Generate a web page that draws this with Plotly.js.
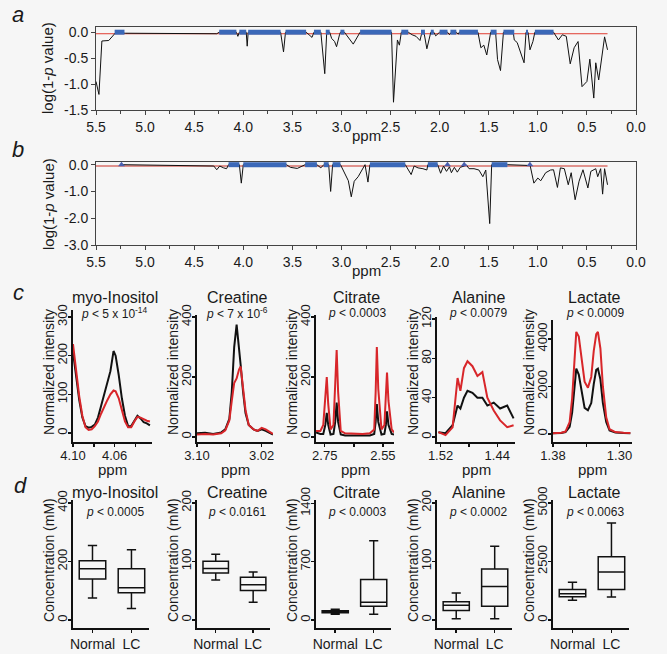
<!DOCTYPE html>
<html><head><meta charset="utf-8">
<script src="https://cdn.plot.ly/plotly-3.0.1.min.js"></script>
<style>html,body{margin:0;padding:0;background:#f6f6f6}</style>
</head><body><div id="chart" style="width:667px;height:654px"></div>
<script>
// ---------- Panel a ----------
const aPpm = [5.50,5.47,5.44,5.37,5.30,5.20,4.27,4.245,4.07,4.055,4.04,3.97,3.96,3.95,3.62,3.59,3.57,3.36,3.33,3.30,3.28,3.21,3.17,3.15,3.12,3.10,3.07,3.05,3.02,3.01,2.97,2.88,2.81,2.49,2.47,2.43,2.41,2.39,2.32,2.28,2.24,2.20,2.18,2.16,2.13,2.09,2.06,2.04,2.00,1.92,1.90,1.88,1.83,1.81,1.80,1.61,1.58,1.55,1.52,1.48,1.43,1.41,1.38,1.35,1.25,1.24,1.21,1.14,1.12,1.10,1.08,1.05,1.03,0.84,0.79,0.75,0.71,0.67,0.63,0.59,0.55,0.50,0.47,0.43,0.41,0.38,0.32,0.29];
const aVal = [-0.95,-1.2,-0.17,-0.16,-0.01,-0.02,-0.03,0,0,-0.08,0,0,-0.27,0,0,-0.38,0,0,-0.05,-0.1,0,0,-0.8,0,0,-0.12,-0.18,-0.28,-0.05,0,0,-0.23,0,0,-1.35,-0.15,-0.25,0,0,-0.05,-0.08,-0.16,0,0,-0.32,0,0,-0.07,0,0,-0.05,0,0,-0.04,0,0,-0.3,-0.25,-0.44,0,0,-0.53,-0.74,0,0,-0.15,-0.2,-0.59,0,0,-0.34,-0.18,0,0,-0.15,-0.05,-0.08,-0.61,-0.3,-0.18,-1.05,-0.95,-0.52,-1.27,-0.59,-0.92,-0.09,-0.34];
const aSigStart = [5.31,4.245,4.04,3.95,3.57,3.28,3.16,3.01,2.81,2.39,2.19,2.09,2.00,1.89,1.80,1.48,1.35,1.12,1.03];
const aSigEnd   = [5.21,4.07,3.97,3.62,3.36,3.21,3.12,2.97,2.49,2.32,2.15,2.06,1.92,1.83,1.61,1.42,1.24,1.10,0.84];
const aThreshold = -0.03;
const thrRange = [5.5, 0.29];

// ---------- Panel b ----------
const bPpm = [5.24,4.30,4.27,4.24,4.20,4.17,4.15,4.04,4.02,4.00,3.56,3.52,3.45,3.39,3.37,3.25,3.21,3.18,3.13,3.11,3.09,3.01,2.97,2.93,2.90,2.87,2.83,2.79,2.76,2.73,2.71,2.35,2.29,2.26,2.22,2.17,2.13,2.12,2.02,1.99,1.96,1.93,1.90,1.88,1.85,1.82,1.79,1.75,1.73,1.70,1.65,1.60,1.56,1.53,1.49,1.47,1.31,1.09,1.08,1.04,1.00,0.97,0.92,0.87,0.84,0.80,0.77,0.73,0.69,0.66,0.62,0.58,0.54,0.49,0.46,0.41,0.39,0.36,0.34,0.32,0.29];
const bVal = [0,-0.05,-0.19,-0.05,-0.12,-0.15,0,0,-0.69,0,0,-0.1,-0.14,-0.05,0,0,-0.12,0,0,-1.0,0,0,-0.3,-0.6,-1.2,-0.62,-0.45,-0.2,0,-0.65,0,0,-0.37,-0.05,-0.12,-0.15,-0.2,0,0,-0.32,-0.05,-0.25,-0.08,-0.3,-0.1,-0.28,-0.1,-0.05,0,-0.15,-0.15,-0.2,-0.45,-0.2,-2.2,0,0,-0.03,0,-0.69,-0.5,-0.6,-0.3,-0.2,-0.19,-0.85,-0.12,-0.15,-0.75,-0.3,-1.31,-0.62,-0.19,-0.87,-0.25,-0.15,-0.45,-0.15,-1.1,-0.15,-0.75];
const bSigStart = [4.15,4.00,3.37,3.18,3.09,2.71,2.12,1.47];
const bSigEnd   = [4.04,3.56,3.25,3.13,3.01,2.35,2.02,1.31];
const bSigDots = [5.24,1.92,1.75,1.08];
const bThreshold = -0.05;

const abTickVals = [5.5,5.0,4.5,4.0,3.5,3.0,2.5,2.0,1.5,1.0,0.5,0.0];
const abTickText = ['5.5','5.0','4.5','4.0','3.5','3.0','2.5','2.0','1.5','1.0','0.5','0.0'];
const aYTickVals = [0,-0.5,-1.0,-1.5];
const aYTickText = ['0.0','-0.5','-1.0','-1.5'];
const bYTickVals = [0,-1,-2,-3];
const bYTickText = ['0.0','-1.0','-2.0','-3.0'];

// ---------- Panel c (spectra) ----------
const metabolites = ['myo-Inositol','Creatine','Citrate','Alanine','Lactate'];
const cPvals = ['<i>p</i> < 5 x 10<sup>-14</sup>','<i>p</i> < 7 x 10<sup>-6</sup>','<i>p</i> < 0.0003','<i>p</i> < 0.0079','<i>p</i> < 0.0009'];

const myoPpm   = [4.100,4.097,4.094,4.091,4.088,4.085,4.082,4.079,4.076,4.073,4.070,4.067,4.064,4.061,4.059,4.056,4.053,4.050,4.047,4.044,4.041,4.038,4.035,4.032,4.029,4.026];
const myoBlack = [210,150,85,40,18,14,16,22,40,70,100,125,160,212,200,150,90,45,18,18,30,45,38,28,25,20];
const myoRed   = [230,160,95,45,15,8,10,18,30,50,70,85,100,110,108,90,60,30,15,15,30,42,40,35,32,30];

const crePpm   = [3.100,3.090,3.080,3.075,3.070,3.065,3.060,3.057,3.054,3.051,3.048,3.046,3.043,3.040,3.036,3.030,3.025,3.020,3.015,3.010,3.006];
const creBlack = [12,14,10,12,15,25,60,150,300,375,300,240,150,80,40,25,20,25,20,12,8];
const creRed   = [8,10,8,10,12,22,55,120,180,195,225,235,170,90,40,25,20,30,25,15,10];

const citPpm   = [2.780,2.765,2.755,2.748,2.743,2.738,2.730,2.720,2.714,2.709,2.704,2.695,2.68,2.65,2.62,2.595,2.58,2.575,2.571,2.566,2.555,2.545,2.540,2.536,2.531,2.52,2.512];
const citBlack = [15,10,10,40,80,40,8,10,50,115,50,8,5,5,5,5,10,50,110,50,8,10,40,85,40,10,8];
const citRed   = [20,20,40,120,200,110,25,40,180,290,150,20,12,10,10,12,25,150,300,160,25,40,140,215,120,25,15];

const alaPpm   = [1.523,1.513,1.503,1.496,1.492,1.487,1.482,1.475,1.468,1.461,1.454,1.445,1.436,1.426,1.417];
const alaBlack = [5,4,12,32,29,40,47,45,40,40,32,35,29,32,19];
const alaRed   = [5,2,10,60,47,70,77,72,62,66,40,27,17,10,12];

const lacPpm   = [1.380,1.370,1.365,1.360,1.357,1.354,1.352,1.349,1.345,1.342,1.338,1.334,1.331,1.328,1.326,1.323,1.320,1.316,1.312,1.305,1.295,1.287];
const lacBlack = [30,40,80,300,900,2200,2750,2500,1700,1100,1000,1300,2100,2700,2750,2300,1300,500,150,60,40,30];
const lacRed   = [30,50,100,500,1500,3500,4300,4100,3000,2200,1950,2400,3500,4200,4300,3600,2000,700,200,80,50,40];

// ---------- Panel d (concentrations, box summaries) ----------
const groups = ['Normal','LC'];
const dPvals = ['<i>p</i> < 0.0005','<i>p</i> < 0.0161','<i>p</i> < 0.0003','<i>p</i> < 0.0002','<i>p</i> < 0.0063'];
const myoBox = {lower:[75,40], q1:[140,93], median:[175,110], q3:[203,175], upper:[255,240]};
const creBox = {lower:[68,30], q1:[80,50], median:[88,60], q3:[100,73], upper:[112,82]};
const citBox = {lower:[70,70], q1:[88,166], median:[100,213], q3:[112,486], upper:[130,950]};
const alaBox = {lower:[2,2], q1:[16,23], median:[25,57], q3:[31,87], upper:[46,126]};
const lacBox = {lower:[850,980], q1:[1000,1300], median:[1120,2050], q3:[1300,2700], upper:[1620,4150]};

const cTickVals = [[4.10,4.06],[3.10,3.02],[2.75,2.55],[1.52,1.44],[1.38,1.30]];
const cTickText = [['4.10','4.06'],['3.10','3.02'],['2.75','2.55'],['1.52','1.44'],['1.38','1.30']];
const cMinorTicks = [[4.08,4.04],[3.06],[2.65],[1.48],[1.34]];
const cYTicks = [[0,100,200,300],[0,200,400],[0,200,400],[0,40,80,120],[0,2000,4000]];
const dYTicks = [[0,200,400],[0,100,200],[0,700,1400],[0,100,200],[0,2500,5000]];

// ---------- layout geometry (pixels) ----------
const W = 667, H = 654;
const px = x => x / W;
const py = y => 1 - y / H;
const FONT = 'Liberation Sans, Arial, sans-serif';
const TXT = '#1a1a1a';

const colX = [[73,152],[197,273],[316,394],[437,515],[553,632]];
const cYdom = [[310,442],[315,442],[315,442],[317,442],[320,442]];
const cYrange = [[-23,318],[-17,407],[-17,407],[-5,122],[-340,4800]];
const cXrange = [[4.10,4.024],[3.10,3.006],[2.78,2.512],[1.525,1.415],[1.38,1.285]];
const dYdom = [500,628];
const dYrange = [[-27,410],[-14,205],[-95,1440],[-14,205],[-340,5130]];

function segs(starts, ends, val) {
  const x = [], y = [];
  for (let i = 0; i < starts.length; i++) { x.push(starts[i], ends[i], null); y.push(val, val, null); }
  return {x, y};
}

const traces = [];
// panel a
const aS = segs(aSigStart, aSigEnd, 0);
traces.push({x: thrRange, y: [aThreshold, aThreshold], xaxis:'x', yaxis:'y', mode:'lines', line:{color:'#e03c31', width:1}});
traces.push({x: aPpm, y: aVal, xaxis:'x', yaxis:'y', mode:'lines', line:{color:'#111', width:1}});
traces.push({x: aS.x, y: aS.y, xaxis:'x', yaxis:'y', mode:'lines', line:{color:'#3b68b8', width:5}});
// panel b
const bS = segs(bSigStart, bSigEnd, 0);
traces.push({x: thrRange, y: [bThreshold, bThreshold], xaxis:'x2', yaxis:'y2', mode:'lines', line:{color:'#d9706a', width:1.5}});
traces.push({x: bPpm, y: bVal, xaxis:'x2', yaxis:'y2', mode:'lines', line:{color:'#111', width:1}});
traces.push({x: bS.x, y: bS.y, xaxis:'x2', yaxis:'y2', mode:'lines', line:{color:'#3b68b8', width:5}});
traces.push({x: bSigDots, y: bSigDots.map(() => 0), xaxis:'x2', yaxis:'y2', mode:'markers', marker:{symbol:'triangle-up', color:'#4a5fb0', size:6}});

// panel c
const cData = [[myoPpm,myoBlack,myoRed],[crePpm,creBlack,creRed],[citPpm,citBlack,citRed],[alaPpm,alaBlack,alaRed],[lacPpm,lacBlack,lacRed]];
cData.forEach((d, i) => {
  const ax = 3 + i;
  traces.push({x: d[0], y: d[1], xaxis:'x'+ax, yaxis:'y'+ax, mode:'lines', line:{color:'#111', width:2}});
  traces.push({x: d[0], y: d[2], xaxis:'x'+ax, yaxis:'y'+ax, mode:'lines', line:{color:'#d8262a', width:2}});
});
// panel d
const dData = [myoBox, creBox, citBox, alaBox, lacBox];
dData.forEach((b, i) => {
  const ax = 8 + i;
  traces.push({type:'box', x: groups, q1: b.q1, median: b.median, q3: b.q3, lowerfence: b.lower, upperfence: b.upper,
    xaxis:'x'+ax, yaxis:'y'+ax, line:{color:'#111', width:1.5}, fillcolor:'rgba(0,0,0,0)', width:0.68, whiskerwidth:0.35,
    boxpoints:false, hoverinfo:'skip'});
});

const layout = {
  width: W, height: H, margin:{l:0,r:0,t:0,b:0},
  paper_bgcolor:'#f6f6f6', plot_bgcolor:'#f6f6f6', showlegend:false,
  font:{family:FONT, color:TXT},
  annotations: []
};

function ann(text, x, y, size, extra) {
  return Object.assign({text, x:px(x), y:py(y), xref:'paper', yref:'paper', xanchor:'center', yanchor:'middle',
    showarrow:false, font:{size, family:FONT, color:TXT}}, extra || {});
}

function abX(anchor) {
  return {domain:[px(96), px(636)], anchor, range:[5.5,0], tickvals:abTickVals, ticktext:abTickText,
    ticks:'outside', ticklen:4, tickcolor:'#444', showline:true, mirror:true, linecolor:'#444', linewidth:1,
    showgrid:false, zeroline:false, tickfont:{size:14, color:TXT},
    minor:{dtick:0.25, tick0:0, ticks:'outside', ticklen:3, tickcolor:'#444'}};
}
function abY(anchor, dom, range, tv, tt) {
  return {domain:dom, anchor, range, tickvals:tv, ticktext:tt, ticks:'outside', ticklen:4, tickcolor:'#444',
    showline:true, mirror:true, linecolor:'#444', linewidth:1, showgrid:false, zeroline:false, tickfont:{size:14, color:TXT}};
}
layout.xaxis = abX('y');
layout.yaxis = abY('x', [py(110), py(27)], [-1.5, 0.1], aYTickVals, aYTickText);
layout.xaxis2 = abX('y2');
layout.yaxis2 = abY('x2', [py(245), py(162)], [-3.0, 0.1], bYTickVals, bYTickText);

for (let i = 0; i < 5; i++) {
  const ax = 3 + i;
  layout['xaxis'+ax] = {domain:[px(colX[i][0]), px(colX[i][1])], anchor:'y'+ax, range:cXrange[i],
    tickvals:cTickVals[i], ticktext:cTickText[i], ticks:'outside', ticklen:3, tickwidth:1.5, tickcolor:'#111',
    minor:{tickvals:cMinorTicks[i], ticks:'outside', ticklen:3, tickwidth:1.5, tickcolor:'#111'},
    ticklabelstandoff:-3,
    showline:true, linecolor:'#111', linewidth:2, showgrid:false, zeroline:false, tickfont:{size:13, color:TXT}};
  layout['yaxis'+ax] = {domain:[py(cYdom[i][1]), py(cYdom[i][0])], anchor:'x'+ax, range:cYrange[i],
    tickvals:cYTicks[i], ticks:'outside', ticklen:3, tickwidth:1.5, tickcolor:'#111', tickangle:-90,
    ticklabelstandoff:-4,
    showline:true, linecolor:'#111', linewidth:2, showgrid:false, zeroline:false, tickfont:{size:13, color:TXT}};
  const cx = (colX[i][0] + colX[i][1]) / 2;
  layout.annotations.push(ann(metabolites[i], cx+2, 297, 16));
  layout.annotations.push(ann(cPvals[i], cx+2, 313, 12));
  layout.annotations.push(ann('ppm', cx, 469, 15));
  layout.annotations.push(ann('Normalized intensity', colX[i][0]-24, 372, 14, {textangle:-90}));

  const dx = 8 + i;
  layout['xaxis'+dx] = {domain:[px(colX[i][0]), px(colX[i][1]-3)], anchor:'y'+dx, type:'category', range:[-0.5,1.45],
    ticks:'outside', ticklen:3, tickwidth:1.5, tickcolor:'#111', showline:true, linecolor:'#111', linewidth:2,
    ticklabelstandoff:-1,
    showgrid:false, zeroline:false, tickfont:{size:14, color:TXT}};
  layout['yaxis'+dx] = {domain:[py(dYdom[1]), py(dYdom[0])], anchor:'x'+dx, range:dYrange[i],
    tickvals:dYTicks[i], ticks:'outside', ticklen:3, tickwidth:1.5, tickcolor:'#111', tickangle:-90,
    ticklabelstandoff:-4,
    showline:true, linecolor:'#111', linewidth:2, showgrid:false, zeroline:false, tickfont:{size:13, color:TXT}};
  layout.annotations.push(ann(metabolites[i], cx+2, 492, 16));
  layout.annotations.push(ann(dPvals[i], cx+2, 512, 12));
  layout.annotations.push(ann('Concentration (mM)', colX[i][0]-24, 560, 14, {textangle:-90}));
}

// panel labels & a/b titles
[['a',18,14],['b',18,150],['c',18,292],['d',20,485]].forEach(([t,x,y]) => {
  layout.annotations.push(ann('<i>'+t+'</i>', x, y, 22));
});
layout.annotations.push(ann('log(1-<i>p</i> value)', 48, 68, 15, {textangle:-90}));
layout.annotations.push(ann('log(1-<i>p</i> value)', 48, 204, 15, {textangle:-90}));
layout.annotations.push(ann('ppm', 366, 135, 15));
layout.annotations.push(ann('ppm', 366, 271, 15));

Plotly.newPlot('chart', traces, layout, {displayModeBar:false, staticPlot:true});
</script></body></html>
